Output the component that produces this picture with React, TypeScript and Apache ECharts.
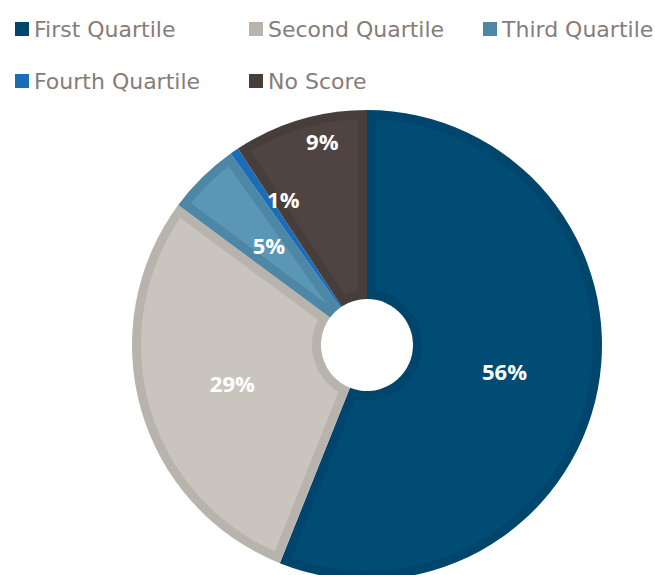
import React, { useEffect, useRef } from "react";
import * as echarts from "echarts";

// ---- data ----
const categories = ["First Quartile", "Second Quartile", "Third Quartile", "Fourth Quartile", "No Score"];
const shares = [56.05, 29.1, 5.0, 0.6, 9.25];
const edgeColors = ["#00466C", "#B8B4AD", "#4E87A5", "#1B6DB7", "#473D3B"];
const fillColors = ["#004C75", "#C9C5BE", "#5A96B5", "#1B6DB7", "#4F4442"];

// ---- layout (not data) ----
const CX = 367;
const CY = 345;
const R_OUT = 235;
const R_IN = 46;
const INSET = 9;
const labelRadius = [140, 140, 140, 168, 209];
const labelAngleShift = [0, 0, 0, 4.5, 4.3];

export default function App() {
  const ref = useRef<HTMLDivElement>(null);

  useEffect(() => {
    if (!ref.current) return;
    const chart = echarts.init(ref.current, null, { renderer: "svg" });
    const total = shares.reduce((a, b) => a + b, 0);
    const starts: number[] = [];
    let acc = 0;
    shares.forEach((v) => {
      starts.push(acc);
      acc += v;
    });
    const pt = (th: number, rho: number) => [CX + rho * Math.sin(th), CY - rho * Math.cos(th)];

    const legendText = {
      color: "#877C79",
      fontFamily: "DejaVu Sans",
      fontSize: 22,
      lineHeight: 14,
    };
    const mkLegend = (data: string[], left: number) => ({
      data,
      orient: "vertical",
      left,
      top: 18,
      padding: 0,
      itemGap: 30,
      itemWidth: 14,
      itemHeight: 14,
      icon: "rect",
      selectedMode: false,
      textStyle: legendText,
    });

    chart.setOption({
      animation: false,
      legend: [
        mkLegend([categories[0], categories[3]], 15),
        mkLegend([categories[1], categories[4]], 249),
        mkLegend([categories[2]], 483),
      ],
      series: [
        {
          type: "pie",
          center: [CX, CY],
          radius: [R_IN, R_OUT],
          startAngle: 90,
          clockwise: true,
          silent: true,
          label: { show: false },
          labelLine: { show: false },
          emphasis: { disabled: true },
          data: categories.map((name, i) => ({
            name,
            value: shares[i],
            itemStyle: { color: edgeColors[i] },
          })),
        },
        {
          type: "custom",
          coordinateSystem: "none",
          silent: true,
          z: 5,
          data: shares.map((v) => [v]),
          renderItem: (params: any, api: any) => {
            const i = params.dataIndex;
            const v = api.value(0);
            const a0 = (starts[i] / total) * Math.PI * 2;
            const a1 = ((starts[i] + v) / total) * Math.PI * 2;
            const span = a1 - a0;
            const Ro = R_OUT - INSET;
            const Ri = R_IN + INSET;
            const dO = Math.asin(INSET / Ro);
            const dI = Math.asin(INSET / Ri);
            const children: any[] = [];
            if (span > 2 * dO) {
              const pts: number[][] = [];
              const oa = a0 + dO;
              const ob = a1 - dO;
              const n = Math.max(4, Math.ceil(((ob - oa) * 180) / Math.PI));
              for (let k = 0; k <= n; k++) pts.push(pt(oa + ((ob - oa) * k) / n, Ro));
              if (span > 2 * dI) {
                const ia = a1 - dI;
                const ib = a0 + dI;
                const m = Math.max(4, Math.ceil(((ia - ib) * 180) / Math.PI));
                for (let k = 0; k <= m; k++) pts.push(pt(ia + ((ib - ia) * k) / m, Ri));
              } else {
                const rho = INSET / Math.sin(span / 2);
                pts.push(pt((a0 + a1) / 2, rho));
              }
              children.push({
                type: "polygon",
                shape: { points: pts },
                style: { fill: fillColors[i] },
              });
            }
            const mid = (a0 + a1) / 2 + (labelAngleShift[i] * Math.PI) / 180;
            const [lx, ly] = pt(mid, labelRadius[i]);
            children.push({
              type: "text",
              x: lx,
              y: ly,
              z2: 10,
              style: {
                text: Math.round((v / total) * 100) + "%",
                fill: "#FFFFFF",
                fontFamily: "Open Sans",
                fontWeight: "bold",
                fontSize: 22,
                align: "center",
                verticalAlign: "middle",
              },
            });
            return { type: "group", children };
          },
        },
      ],
    });
    return () => chart.dispose();
  }, []);

  return (
    <div
      ref={ref}
      style={{ position: "fixed", left: 0, top: 0, width: 655, height: 575, background: "#FFFFFF" }}
    />
  );
}
